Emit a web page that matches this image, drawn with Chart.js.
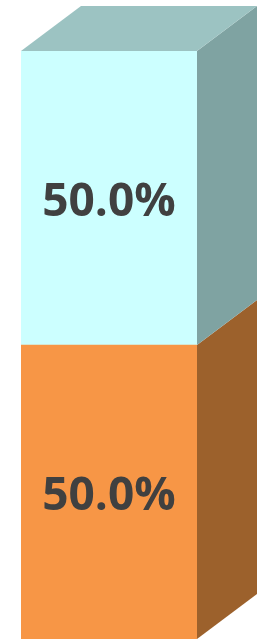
<!DOCTYPE html>
<html>
<head>
<meta charset="utf-8">
<script src="https://cdn.jsdelivr.net/npm/chart.js@4"></script>
<style>
  html, body { margin: 0; padding: 0; background: #fff; }
  #wrap { width: 270px; height: 639px; position: relative; }
</style>
</head>
<body>
<div id="wrap"><canvas id="barChart"></canvas></div>
<script>
const categories = ['Total'];
const seriesNames = ['Lower', 'Upper'];
const lowerValues = [50];
const upperValues = [50];

const frontColors = ['#F79646', '#CCFFFF'];
const sideColors = ['#9C612C', '#7FA3A2'];
const topColors = ['#B56E33', '#9CC3C2'];

// depth of the fake 3d box
const DX = 60, DY = 45;

const box3d = {
  id: 'box3d',
  afterDatasetsDraw(chart) {
    const ctx = chart.ctx;
    const n = chart.data.datasets.length;
    const totals = categories.map((c, i) =>
      chart.data.datasets.reduce((s, d) => s + d.data[i], 0));
    chart.data.datasets.forEach((ds, di) => {
      const meta = chart.getDatasetMeta(di);
      meta.data.forEach((bar, i) => {
        const left = bar.x - bar.width / 2;
        const right = bar.x + bar.width / 2;
        const top = bar.y, base = bar.base;
        ctx.save();
        // side face
        ctx.fillStyle = sideColors[di];
        ctx.beginPath();
        ctx.moveTo(right, top);
        ctx.lineTo(right + DX, top - DY);
        ctx.lineTo(right + DX, base - DY);
        ctx.lineTo(right, base);
        ctx.closePath();
        ctx.fill();
        // top face only on the highest segment
        if (di === n - 1) {
          ctx.fillStyle = topColors[di];
          ctx.beginPath();
          ctx.moveTo(left, top);
          ctx.lineTo(left + DX, top - DY);
          ctx.lineTo(right + DX, top - DY);
          ctx.lineTo(right, top);
          ctx.closePath();
          ctx.fill();
        }
        // value label
        const pct = (ds.data[i] / totals[i] * 100).toFixed(1) + '%';
        ctx.fillStyle = '#404040';
        ctx.font = "bold 46px 'Liberation Sans Narrow', 'Open Sans', sans-serif";
        ctx.textAlign = 'center';
        ctx.textBaseline = 'middle';
        ctx.fillText(pct, bar.x, (top + base) / 2 + 5);
        ctx.restore();
      });
    });
  }
};

new Chart(document.getElementById('barChart'), {
  type: 'bar',
  data: {
    labels: categories,
    datasets: [
      { label: seriesNames[0], data: lowerValues, backgroundColor: frontColors[0], borderWidth: 0 },
      { label: seriesNames[1], data: upperValues, backgroundColor: frontColors[1], borderWidth: 0 }
    ]
  },
  options: {
    responsive: true,
    maintainAspectRatio: false,
    animation: false,
    layout: { padding: { top: 51, left: 21, right: 73, bottom: 0 } },
    plugins: { legend: { display: false }, tooltip: { enabled: false } },
    scales: {
      x: { stacked: true, display: false, barPercentage: 1, categoryPercentage: 1 },
      y: { stacked: true, display: false, min: 0, max: 100 }
    },
    datasets: { bar: { barPercentage: 1, categoryPercentage: 1 } }
  },
  plugins: [box3d]
});
</script>
</body>
</html>
